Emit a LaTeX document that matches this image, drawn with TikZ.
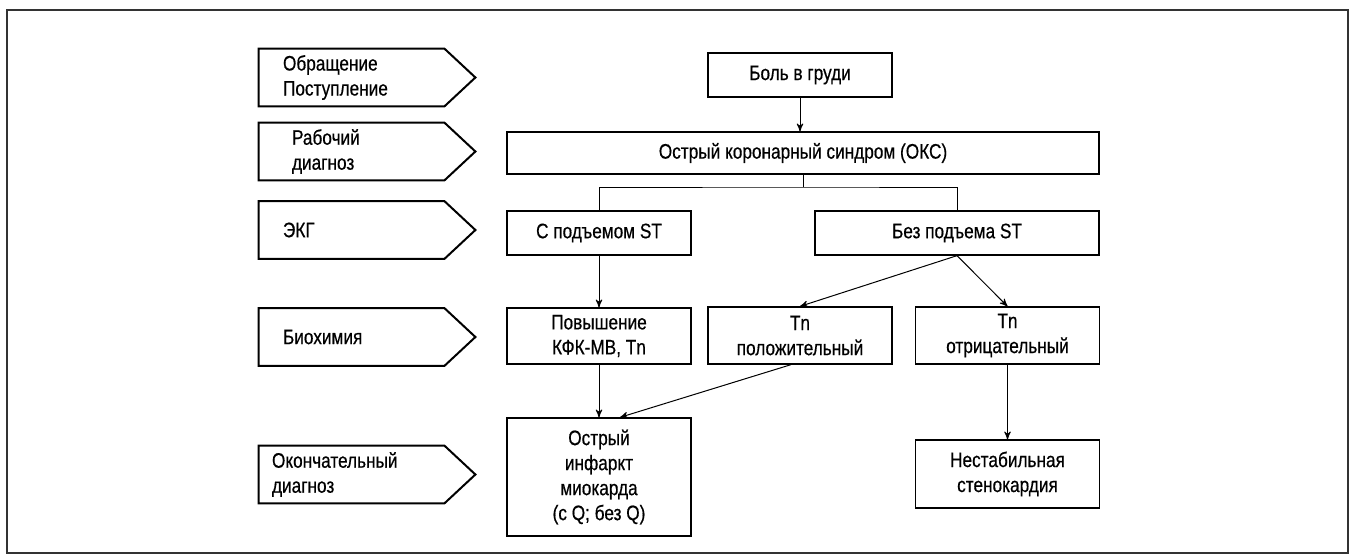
\documentclass[tikz,border=0pt]{standalone}
\usepackage{fontspec}
\setmainfont[FakeStretch=0.82,FakeBold=0.5]{Liberation Sans}
\usetikzlibrary{arrows}

\tikzset{
  stage/.style={text width=68.5pt, inner xsep=12pt, inner ysep=0pt, minimum height=28.5pt, align=left},
  box/.style={draw, line width=0.65pt, inner sep=0pt, minimum width=92pt, align=center},
  link/.style={line width=0.5pt},
  arr/.style={link, ->, >=stealth'}
}

\begin{document}
\begin{tikzpicture}[x=0.5pt, y=-0.5pt, font=\fontsize{10.5}{12.5}\selectfont]
    \useasboundingbox (0,0) rectangle (1353,558);
    \draw[black!80, line width=0.6pt] (7,10) rectangle (1348,553);

    \node[stage] (ask) at (351.5,77.5) {Обращение\\Поступление};
    \node[stage] (work) at (351.5,151.5) {\hspace*{4.5pt}Рабочий\\\hspace*{4.5pt}диагноз};
    \node[stage] (ecg) at (351.5,230) {ЭКГ};
    \node[stage] (bio) at (351.5,337) {Биохимия};
    \node[stage] (final) at (351.5,474.5) {\hspace*{-5.5pt}Окончательный\\\hspace*{-5.5pt}диагноз};
    \foreach \s in {ask,work,ecg,bio,final}
      \draw[line width=1pt] (\s.north west) -- (\s.north east) -- ([xshift=15.5pt]\s.east) -- (\s.south east) -- (\s.south west) -- cycle;

    \node[box, minimum height=22pt] (pain) at (800,75) {Боль в груди};
    \node[box, minimum width=296pt, minimum height=21pt] (acs) at (803,153) {Острый коронарный синдром (ОКС)};
    \node[box, minimum height=22pt] (stup) at (599,233) {С подъемом ST};
    \node[box, minimum width=142pt, minimum height=22pt] (nostup) at (957,233) {Без подъема ST};
    \node[box, minimum height=28pt] (ckmb) at (599,336) {Повышение\\КФК-МВ, Tn};
    \node[box, minimum height=28.5pt] (tnpos) at (800,335.5) {Tn\\положительный};
    \node[box, minimum height=28.5pt] (tnneg) at (1007.5,335.5) {Tn\\отрицательный};
    \node[box, minimum height=59pt] (ami) at (599,477) {Острый\\инфаркт\\миокарда\\(с Q; без Q)};
    \node[box, minimum height=34pt] (ua) at (1007.5,474) {Нестабильная\\стенокардия};

    \coordinate (fork) at (803,187);
    \draw[arr] (pain.south) -- (pain.south |- acs.north);
    \draw[link] (acs.south) -- (fork);
    \draw[link] (stup.north) |- (fork) -| (nostup.north);
    \draw[arr] (stup.south) -- (ckmb.north);
    \draw[arr] (ckmb.south) -- (ami.north);
    \draw[arr] (nostup.south) -- (tnpos.north);
    \draw[arr] (nostup.south) -- (tnneg.north);
    \draw[arr] ([xshift=-4.5pt]tnpos.south) -- ([xshift=10.5pt]ami.north);
    \draw[arr] (tnneg.south) -- (ua.north);
  \end{tikzpicture}
\end{document}
